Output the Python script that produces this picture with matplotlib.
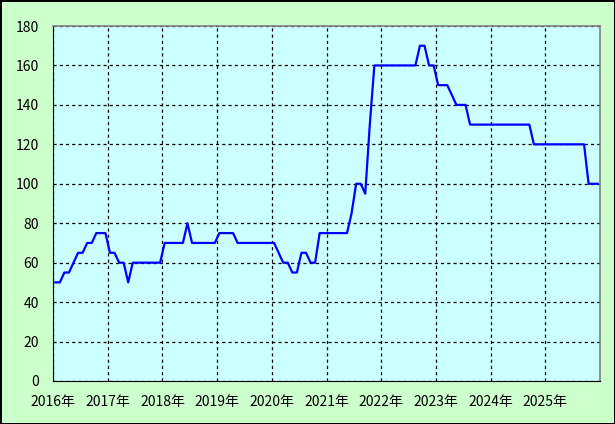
import numpy as np
import matplotlib
matplotlib.use("Agg")
import matplotlib.pyplot as plt

plt.rcParams['font.family'] = ['Noto Sans CJK JP', 'DejaVu Sans']

# monthly values, 2016-01 .. 2025-12
y2016 = [50, 50, 55, 55, 60, 65, 65, 70, 70, 75, 75, 75]
y2017 = [65, 65, 60, 60, 50, 60, 60, 60, 60, 60, 60, 60]
y2018 = [70, 70, 70, 70, 70, 80, 70, 70, 70, 70, 70, 70]
y2019 = [75, 75, 75, 75, 70, 70, 70, 70, 70, 70, 70, 70]
y2020 = [70, 65, 60, 60, 55, 55, 65, 65, 60, 60, 75, 75]
y2021 = [75, 75, 75, 75, 75, 85, 100, 100, 95, 130, 160, 160]
y2022 = [160, 160, 160, 160, 160, 160, 160, 160, 170, 170, 160, 160]
y2023 = [150, 150, 150, 145, 140, 140, 140, 130, 130, 130, 130, 130]
y2024 = [130, 130, 130, 130, 130, 130, 130, 130, 130, 120, 120, 120]
y2025 = [120, 120, 120, 120, 120, 120, 120, 120, 120, 100, 100, 100]
years = [2016, 2017, 2018, 2019, 2020, 2021, 2022, 2023, 2024, 2025]
year_labels = [f"{y}年" for y in years]

values = y2016 + y2017 + y2018 + y2019 + y2020 + y2021 + y2022 + y2023 + y2024 + y2025
x = np.arange(len(values)) + 0.5

fig = plt.figure(figsize=(6.15, 4.24), dpi=100)
fig.patch.set_facecolor('#ccffcc')
fig.patch.set_edgecolor('black')
fig.patch.set_linewidth(2)

ax = fig.add_axes([53 / 615, 1 - 381 / 424, 547 / 615, 355 / 424])
ax.set_facecolor('#ccffff')
ax.plot(x, values, color='#0000ff', linewidth=1.6)

ax.set_xlim(0, 120)
ax.set_ylim(0, 180)
ax.set_xticks(np.arange(0, 120, 12))
ax.set_xticklabels(year_labels)
ax.set_yticks(np.arange(0, 181, 20))
ax.tick_params(length=0, labelsize=10, colors='black')
ax.tick_params(axis='x', pad=10)
ax.tick_params(axis='y', pad=10)
ax.grid(True, color='black', linestyle=(0, (2.5, 2.5)), linewidth=0.9)

for s in ['left', 'bottom']:
    ax.spines[s].set_color('black')
for s in ['top', 'right']:
    ax.spines[s].set_color('#808080')
    ax.spines[s].set_linewidth(1.2)

fig.savefig('out.png', dpi=100, facecolor=fig.get_facecolor(), edgecolor='black')
